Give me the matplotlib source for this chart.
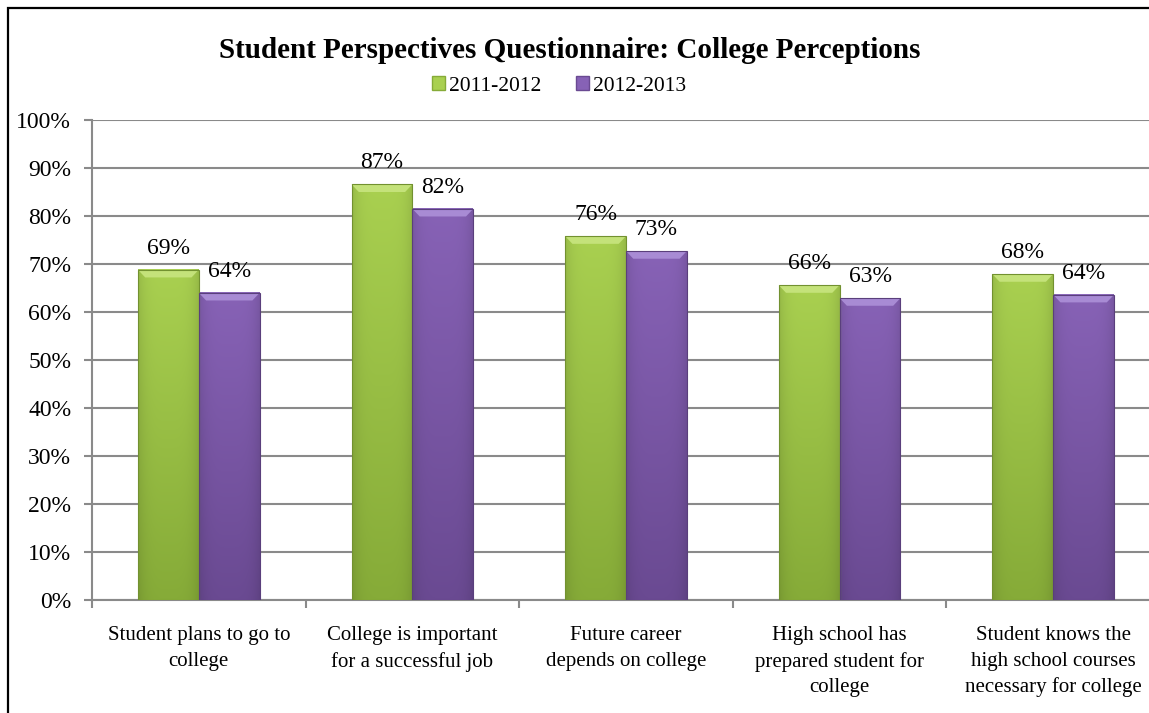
import numpy as np
import matplotlib.pyplot as plt
from matplotlib.colors import to_rgb
from matplotlib.patches import Rectangle, Polygon

plt.rcParams["font.family"] = ["Liberation Serif", "DejaVu Serif"]

categories = [
    "Student plans to go to\ncollege",
    "College is important\nfor a successful job",
    "Future career\ndepends on college",
    "High school has\nprepared student for\ncollege",
    "Student knows the\nhigh school courses\nnecessary for college",
]
series_names = ["2011-2012", "2012-2013"]
values_2011 = [68.8, 86.6, 75.8, 65.6, 67.9]
values_2012 = [64.0, 81.5, 72.7, 62.9, 63.6]
y_ticks = [0, 10, 20, 30, 40, 50, 60, 70, 80, 90, 100]

# (top colour, bottom colour, bevel colour) for each series
palettes = [
    ("#a9d050", "#86ab38", "#c4e27a"),
    ("#8762b6", "#6a4a92", "#a88bd4"),
]

W, H = 1149, 713
fig = plt.figure(figsize=(W / 100, H / 100), dpi=100)

# outer chart frame (left and top edges visible)
fig.add_artist(Rectangle((8 / W, -0.1), 1.2, 1.1 - 8 / H, transform=fig.transFigure,
                         fill=False, edgecolor="black", linewidth=1.6))

ax = fig.add_axes([92 / W, 1 - 600 / H, (1160 - 92) / W, 480 / H])
ax.set_xlim(-0.5, 4.5)
ax.set_ylim(0, 100)

bar_w = 0.285


def gradient_bar(ax, x0, height, pal):
    top, bottom, bevel = (np.array(to_rgb(c)) for c in pal)
    ny, nx = 100, 40
    t = np.linspace(0, 1, ny)[:, None, None]          # 0 at bottom, 1 at top
    col = bottom + (top - bottom) * t
    xs = np.linspace(-1, 1, nx)[None, :, None]
    shade = 1 - 0.10 * np.abs(xs) ** 4
    img = np.clip(col * shade, 0, 1)
    img = np.broadcast_to(img, (ny, nx, 3))
    ax.imshow(img, extent=(x0, x0 + bar_w, 0, height), origin="lower",
              aspect="auto", interpolation="bilinear", zorder=3)
    # bevelled top edge
    bh = 1.6
    bx = bar_w * 0.12
    ax.add_patch(Polygon([(x0, height), (x0 + bar_w, height),
                          (x0 + bar_w - bx, height - bh), (x0 + bx, height - bh)],
                         closed=True, facecolor=bevel, edgecolor="none", zorder=4))
    ax.add_patch(Rectangle((x0, 0), bar_w, height, fill=False,
                           edgecolor=bottom * 0.85, linewidth=0.8, zorder=5))


x = np.arange(len(categories))
for s, vals in enumerate([values_2011, values_2012]):
    for i, v in enumerate(vals):
        x0 = x[i] - bar_w + s * bar_w
        gradient_bar(ax, x0, v, palettes[s])
        ax.annotate(f"{v:.0f}%", (x0 + bar_w / 2, v), xytext=(0, 8),
                    textcoords="offset points", ha="center", va="bottom",
                    fontsize=17, zorder=6)

ax.set_yticks(y_ticks)
ax.set_yticklabels([f"{t}%" for t in y_ticks], fontsize=17)
ax.yaxis.grid(True, color="#8a8a8a", linewidth=1.5, zorder=0)
ax.set_axisbelow(True)

ax.set_xticks(np.arange(-0.5, 4.6, 1.0))
ax.set_xticklabels([])
ax.set_xticks(x, minor=True)
ax.set_xticklabels(categories, minor=True, fontsize=15, linespacing=1.45)
ax.tick_params(axis="x", which="minor", length=0, pad=19)
ax.tick_params(axis="x", which="major", length=6, color="#8a8a8a", width=1.5)
ax.tick_params(axis="y", length=6, color="#8a8a8a", width=1.5, pad=9)

for side in ["top", "right"]:
    ax.spines[side].set_visible(False)
for side in ["left", "bottom"]:
    ax.spines[side].set_color("#8a8a8a")
    ax.spines[side].set_linewidth(1.5)

fig.text(570 / W, 1 - 50 / H, "Student Perspectives Questionnaire: College Perceptions",
         ha="center", va="center", fontsize=21, fontweight="bold")

# legend with small swatches
handles = [Rectangle((0, 0), 1, 1, facecolor=p[0], edgecolor=p[1]) for p in palettes]
fig.legend(handles, series_names, loc="center", bbox_to_anchor=(559 / W, 1 - 86 / H),
           ncol=2, frameon=False, fontsize=15.5, handlelength=0.6, handleheight=0.6,
           handletextpad=0.2, columnspacing=1.6)

fig.savefig("out.png", dpi=100)
